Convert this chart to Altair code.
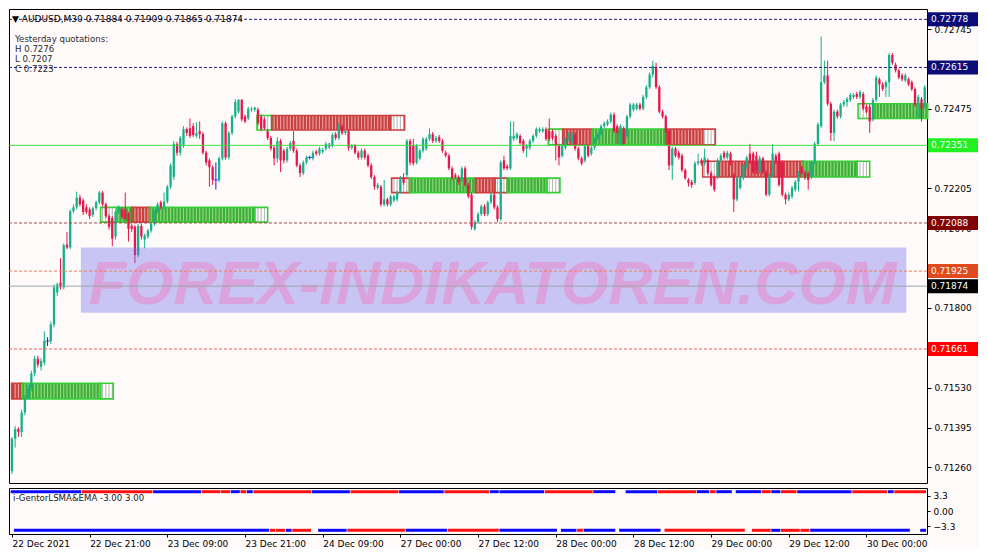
import json
import math
import altair as alt
import pandas as pd

# ---------------- data ----------------
opens = [
0.71247,0.71357,0.71390,0.71380,0.71446,0.71496,0.71529,0.71578,0.71628,0.71601,
0.71615,0.71688,0.71688,0.71744,0.71853,0.71886,0.71870,0.72015,0.72005,0.72128,
0.72141,0.72174,0.72164,0.72141,0.72134,0.72115,0.72138,0.72158,0.72191,0.72151,
0.72111,0.72105,0.72042,0.72125,0.72134,0.72134,0.72118,0.72078,0.72075,0.71979,
0.72078,0.72032,0.72042,0.72062,0.72085,0.72128,0.72158,0.72141,0.72161,0.72211,
0.72244,0.72356,0.72326,0.72350,0.72406,0.72409,0.72416,0.72383,0.72399,0.72389,
0.72326,0.72300,0.72277,0.72234,0.72234,0.72307,0.72426,0.72310,0.72393,0.72449,
0.72465,0.72505,0.72449,0.72442,0.72472,0.72472,0.72472,0.72449,0.72439,0.72399,
0.72376,0.72343,0.72307,0.72366,0.72333,0.72300,0.72340,0.72366,0.72333,0.72283,
0.72257,0.72293,0.72310,0.72307,0.72330,0.72323,0.72330,0.72340,0.72350,0.72350,
0.72389,0.72376,0.72416,0.72393,0.72399,0.72343,0.72350,0.72326,0.72310,0.72333,
0.72316,0.72283,0.72244,0.72207,0.72211,0.72151,0.72168,0.72151,0.72164,0.72168,
0.72194,0.72240,0.72250,0.72366,0.72350,0.72293,0.72307,0.72333,0.72340,0.72373,
0.72389,0.72366,0.72379,0.72366,0.72326,0.72316,0.72273,0.72250,0.72244,0.72234,
0.72273,0.72217,0.72184,0.72068,0.72091,0.72118,0.72144,0.72118,0.72158,0.72184,
0.72141,0.72101,0.72300,0.72280,0.72273,0.72373,0.72376,0.72383,0.72366,0.72340,
0.72343,0.72366,0.72383,0.72399,0.72399,0.72406,0.72399,0.72399,0.72383,0.72350,
0.72316,0.72343,0.72373,0.72359,0.72389,0.72340,0.72307,0.72300,0.72350,0.72323,
0.72343,0.72373,0.72389,0.72416,0.72422,0.72432,0.72455,0.72416,0.72383,0.72409,
0.72383,0.72449,0.72472,0.72475,0.72489,0.72475,0.72515,0.72548,0.72591,0.72614,
0.72548,0.72465,0.72449,0.72399,0.72283,0.72340,0.72326,0.72316,0.72267,0.72234,
0.72227,0.72224,0.72290,0.72300,0.72290,0.72300,0.72257,0.72244,0.72244,0.72300,
0.72326,0.72310,0.72323,0.72250,0.72168,0.72207,0.72240,0.72277,0.72323,0.72323,
0.72316,0.72260,0.72307,0.72260,0.72184,0.72250,0.72316,0.72323,0.72293,0.72184,
0.72168,0.72178,0.72201,0.72227,0.72277,0.72260,0.72257,0.72244,0.72293,0.72356,
0.72416,0.72565,0.72588,0.72492,0.72393,0.72465,0.72449,0.72489,0.72498,0.72505,
0.72515,0.72525,0.72515,0.72525,0.72482,0.72482,0.72439,0.72505,0.72575,0.72558,
0.72548,0.72565,0.72657,0.72624,0.72605,0.72588,0.72571,0.72575,0.72565,0.72542,
0.72492,0.72508,0.72482]

closes = [
0.71357,0.71390,0.71380,0.71446,0.71496,0.71529,0.71578,0.71628,0.71608,0.71621,
0.71688,0.71688,0.71744,0.71870,0.71880,0.71870,0.72012,0.72005,0.72128,0.72141,
0.72174,0.72151,0.72125,0.72125,0.72111,0.72138,0.72158,0.72191,0.72151,0.72111,
0.72075,0.72035,0.72125,0.72141,0.72108,0.72101,0.72068,0.72068,0.71979,0.72078,
0.72042,0.72045,0.72062,0.72085,0.72128,0.72151,0.72141,0.72161,0.72211,0.72283,
0.72356,0.72326,0.72376,0.72406,0.72393,0.72383,0.72386,0.72393,0.72389,0.72326,
0.72293,0.72277,0.72234,0.72234,0.72307,0.72426,0.72310,0.72393,0.72449,0.72498,
0.72505,0.72439,0.72432,0.72475,0.72475,0.72479,0.72426,0.72406,0.72409,0.72376,
0.72340,0.72307,0.72366,0.72300,0.72300,0.72340,0.72359,0.72333,0.72283,0.72257,
0.72293,0.72310,0.72310,0.72326,0.72323,0.72340,0.72336,0.72356,0.72350,0.72386,
0.72376,0.72419,0.72393,0.72399,0.72343,0.72350,0.72326,0.72310,0.72333,0.72310,
0.72283,0.72244,0.72211,0.72217,0.72151,0.72168,0.72151,0.72178,0.72178,0.72191,
0.72240,0.72224,0.72366,0.72293,0.72290,0.72350,0.72333,0.72373,0.72373,0.72389,
0.72366,0.72376,0.72366,0.72333,0.72316,0.72273,0.72240,0.72244,0.72227,0.72273,
0.72217,0.72178,0.72075,0.72091,0.72118,0.72144,0.72118,0.72158,0.72184,0.72141,
0.72101,0.72293,0.72273,0.72273,0.72383,0.72383,0.72389,0.72359,0.72333,0.72350,
0.72366,0.72383,0.72406,0.72406,0.72406,0.72373,0.72373,0.72376,0.72350,0.72310,
0.72350,0.72373,0.72389,0.72389,0.72340,0.72307,0.72290,0.72350,0.72316,0.72343,
0.72373,0.72389,0.72416,0.72426,0.72432,0.72455,0.72399,0.72393,0.72416,0.72356,
0.72449,0.72489,0.72489,0.72489,0.72475,0.72515,0.72548,0.72591,0.72621,0.72548,
0.72465,0.72449,0.72399,0.72283,0.72340,0.72316,0.72310,0.72267,0.72240,0.72224,
0.72217,0.72290,0.72297,0.72290,0.72310,0.72257,0.72217,0.72201,0.72300,0.72316,
0.72310,0.72326,0.72293,0.72168,0.72240,0.72240,0.72283,0.72310,0.72293,0.72260,
0.72267,0.72307,0.72260,0.72184,0.72250,0.72323,0.72293,0.72217,0.72184,0.72168,
0.72184,0.72207,0.72227,0.72257,0.72257,0.72240,0.72234,0.72293,0.72356,0.72422,
0.72565,0.72588,0.72492,0.72393,0.72465,0.72449,0.72489,0.72498,0.72508,0.72522,
0.72522,0.72515,0.72532,0.72475,0.72465,0.72432,0.72505,0.72581,0.72558,0.72542,
0.72565,0.72657,0.72631,0.72605,0.72581,0.72575,0.72588,0.72558,0.72542,0.72489,
0.72515,0.72475,0.72548]

highs = [
0.71363,0.71400,0.71396,0.71456,0.71506,0.71539,0.71588,0.71638,0.71638,0.71631,
0.71721,0.71701,0.71754,0.71880,0.71886,0.71969,0.72019,0.72058,0.72134,0.72151,
0.72194,0.72184,0.72171,0.72151,0.72141,0.72144,0.72164,0.72197,0.72197,0.72158,
0.72118,0.72111,0.72131,0.72148,0.72141,0.72191,0.72125,0.72085,0.72081,0.72085,
0.72085,0.72052,0.72068,0.72091,0.72134,0.72158,0.72164,0.72191,0.72217,0.72290,
0.72366,0.72363,0.72383,0.72416,0.72412,0.72442,0.72426,0.72429,0.72432,0.72396,
0.72333,0.72307,0.72283,0.72293,0.72313,0.72432,0.72432,0.72399,0.72455,0.72508,
0.72508,0.72508,0.72455,0.72482,0.72482,0.72482,0.72479,0.72455,0.72446,0.72406,
0.72383,0.72350,0.72379,0.72373,0.72340,0.72346,0.72366,0.72399,0.72340,0.72290,
0.72300,0.72316,0.72316,0.72333,0.72336,0.72346,0.72343,0.72363,0.72359,0.72393,
0.72396,0.72426,0.72422,0.72406,0.72406,0.72356,0.72356,0.72333,0.72340,0.72340,
0.72323,0.72290,0.72250,0.72224,0.72217,0.72234,0.72174,0.72184,0.72184,0.72197,
0.72247,0.72257,0.72373,0.72373,0.72373,0.72356,0.72340,0.72379,0.72379,0.72409,
0.72396,0.72383,0.72386,0.72373,0.72333,0.72323,0.72280,0.72257,0.72250,0.72280,
0.72280,0.72224,0.72191,0.72098,0.72125,0.72151,0.72151,0.72164,0.72191,0.72191,
0.72148,0.72300,0.72316,0.72287,0.72432,0.72432,0.72396,0.72389,0.72373,0.72356,
0.72373,0.72389,0.72412,0.72412,0.72412,0.72412,0.72442,0.72406,0.72389,0.72356,
0.72356,0.72379,0.72396,0.72396,0.72396,0.72346,0.72313,0.72356,0.72356,0.72350,
0.72379,0.72396,0.72422,0.72432,0.72439,0.72462,0.72462,0.72422,0.72422,0.72416,
0.72455,0.72495,0.72495,0.72495,0.72495,0.72522,0.72555,0.72598,0.72638,0.72631,
0.72555,0.72472,0.72455,0.72406,0.72346,0.72346,0.72333,0.72323,0.72273,0.72240,
0.72234,0.72297,0.72323,0.72307,0.72340,0.72307,0.72264,0.72250,0.72307,0.72323,
0.72333,0.72333,0.72330,0.72257,0.72247,0.72247,0.72290,0.72316,0.72356,0.72330,
0.72330,0.72316,0.72313,0.72267,0.72257,0.72356,0.72323,0.72330,0.72300,0.72191,
0.72191,0.72214,0.72234,0.72264,0.72283,0.72267,0.72264,0.72300,0.72363,0.72429,
0.72720,0.72638,0.72638,0.72498,0.72472,0.72472,0.72495,0.72505,0.72515,0.72528,
0.72528,0.72532,0.72538,0.72532,0.72489,0.72489,0.72512,0.72588,0.72581,0.72565,
0.72571,0.72664,0.72664,0.72631,0.72611,0.72595,0.72595,0.72581,0.72571,0.72548,
0.72522,0.72515,0.72555]

lows = [
0.71237,0.71327,0.71363,0.71363,0.71436,0.71489,0.71519,0.71568,0.71598,0.71588,
0.71605,0.71671,0.71678,0.71734,0.71840,0.71863,0.71863,0.71999,0.71999,0.72121,
0.72134,0.72144,0.72115,0.72118,0.72101,0.72108,0.72131,0.72151,0.72144,0.72105,
0.72065,0.72009,0.72032,0.72118,0.72101,0.72095,0.72025,0.72058,0.71952,0.71972,
0.72032,0.72002,0.72035,0.72055,0.72078,0.72121,0.72134,0.72134,0.72154,0.72204,
0.72234,0.72316,0.72316,0.72343,0.72383,0.72376,0.72379,0.72376,0.72373,0.72320,
0.72283,0.72211,0.72217,0.72201,0.72227,0.72300,0.72303,0.72303,0.72386,0.72442,
0.72459,0.72432,0.72426,0.72436,0.72465,0.72465,0.72419,0.72399,0.72403,0.72369,
0.72333,0.72283,0.72293,0.72260,0.72290,0.72293,0.72333,0.72326,0.72277,0.72244,
0.72250,0.72287,0.72303,0.72300,0.72316,0.72316,0.72323,0.72333,0.72340,0.72343,
0.72369,0.72369,0.72386,0.72386,0.72333,0.72336,0.72320,0.72303,0.72303,0.72303,
0.72277,0.72237,0.72201,0.72201,0.72144,0.72144,0.72144,0.72144,0.72158,0.72161,
0.72187,0.72217,0.72244,0.72283,0.72283,0.72287,0.72300,0.72326,0.72333,0.72366,
0.72359,0.72359,0.72359,0.72326,0.72310,0.72267,0.72234,0.72237,0.72217,0.72227,
0.72211,0.72171,0.72065,0.72062,0.72085,0.72111,0.72111,0.72111,0.72151,0.72134,
0.72091,0.72095,0.72267,0.72267,0.72267,0.72366,0.72369,0.72353,0.72326,0.72310,
0.72336,0.72359,0.72376,0.72393,0.72393,0.72366,0.72366,0.72369,0.72300,0.72283,
0.72310,0.72336,0.72366,0.72353,0.72333,0.72300,0.72283,0.72293,0.72310,0.72316,
0.72336,0.72366,0.72383,0.72409,0.72416,0.72426,0.72393,0.72356,0.72350,0.72350,
0.72376,0.72442,0.72465,0.72469,0.72469,0.72469,0.72508,0.72542,0.72581,0.72542,
0.72459,0.72442,0.72393,0.72267,0.72234,0.72310,0.72303,0.72260,0.72234,0.72211,
0.72207,0.72217,0.72283,0.72283,0.72283,0.72250,0.72211,0.72194,0.72237,0.72293,
0.72303,0.72303,0.72283,0.72125,0.72161,0.72201,0.72234,0.72270,0.72287,0.72254,
0.72254,0.72254,0.72254,0.72178,0.72178,0.72244,0.72287,0.72211,0.72178,0.72151,
0.72161,0.72171,0.72194,0.72194,0.72250,0.72234,0.72201,0.72237,0.72287,0.72350,
0.72409,0.72558,0.72485,0.72366,0.72366,0.72442,0.72442,0.72482,0.72482,0.72498,
0.72508,0.72508,0.72508,0.72469,0.72459,0.72393,0.72432,0.72498,0.72515,0.72535,
0.72515,0.72515,0.72624,0.72598,0.72575,0.72568,0.72565,0.72552,0.72535,0.72482,
0.72442,0.72432,0.72475]

# price-axis tick labels (the ones not fully covered by level tags) and time labels
y_ticks = [0.72745, 0.72475, 0.72205, 0.72070,
           0.71935, 0.71800, 0.71530, 0.71395, 0.71260]
time_bars = [0, 24, 48, 72, 96, 120, 144, 168, 192, 216, 240, 264]
time_labels = ["22 Dec 2021", "22 Dec 21:00", "23 Dec 09:00", "23 Dec 21:00",
               "24 Dec 09:00", "27 Dec 00:00", "27 Dec 12:00", "28 Dec 00:00",
               "28 Dec 12:00", "29 Dec 00:00", "29 Dec 12:00", "30 Dec 00:00"]

# horizontal price levels
lvl_price = [0.72778, 0.72615, 0.72351, 0.72088, 0.71925, 0.71874, 0.71661]
lvl_kind = ["navy", "navy", "green", "darkred", "orange", "gray", "red"]

# zone rectangles (sections): start bar, end bar, top price, bottom price, kind, edge
sec_start = [-0.1, 3.3, 27.4,   27.4, 32.5, 37.0, 42.5, 75.0,   75.7, 80.3, 117.0,
             117.3, 122.8, 143.2, 149.2, 153.0, 165.3,   165.7, 170.2, 179.3, 202.1, 213.4,
             213.4, 218.0, 244.4, 261.1,   261.4, 266.6]
sec_end = [3.3, 27.4, 31.3,   32.5, 37.0, 42.5, 75.0, 79.0,   80.3, 117.0, 121.3,
           122.8, 143.2, 149.2, 153.0, 165.3, 169.3,   170.2, 179.3, 202.1, 213.4, 217.3,
           218.0, 244.4, 261.1, 265.0,   266.6, 282.9]
sec_top = [0.71545] * 3 + [0.72141] * 5 + [0.72452] * 3 + [0.72240] * 6 + [0.72406] * 5 + [0.72297] * 4 + [0.72492] * 2
sec_bot = [0.71492] * 3 + [0.72091] * 5 + [0.72403] * 3 + [0.72191] * 6 + [0.72353] * 5 + [0.72244] * 4 + [0.72442] * 2
sec_kind = ["red", "green", "white",   "white", "green", "red", "green", "white",   "white", "red", "white",
            "white", "green", "red", "white", "green", "white",   "white", "red", "green", "red", "white",
            "white", "red", "green", "white",   "white", "green"]
sec_edge = ["red", "green", "green",   "green", "green", "red", "green", "green",   "green", "red", "red",
            "red", "green", "red", "red", "green", "green",   "green", "red", "green", "red", "red",
            "red", "red", "green", "green",   "green", "green"]

# indicator panel segments (bar ranges, colour)
top_start = [0, 22, 44, 59, 65, 68, 71, 73, 75, 93, 105, 120, 134, 148, 151, 165, 180, 190, 200, 212, 216, 218, 224, 232, 235, 238, 243, 260, 271, 273]
top_end = [21, 43, 58, 64, 67, 70, 72, 74, 92, 104, 119, 133, 147, 150, 164, 179, 186, 199, 211, 215, 217, 222, 231, 234, 237, 242, 259, 270, 272, 282]
top_col = ["b", "r", "b", "r", "r", "b", "r", "b", "r", "b", "r", "b", "r", "b", "b", "r", "b", "b", "r", "b", "r", "b", "b", "r", "b", "r", "b", "r", "b", "r"]
bot_start = [1, 80, 82, 85, 87, 95, 104, 122, 135, 151, 170, 175, 177, 188, 202, 229, 235, 238, 244, 247, 281]
bot_end = [79, 81, 84, 86, 92, 103, 121, 134, 150, 168, 174, 176, 186, 200, 226, 234, 237, 243, 246, 277, 282]
bot_col = ["b", "r", "r", "b", "r", "b", "r", "b", "r", "b", "b", "r", "b", "b", "r", "r", "b", "r", "r", "b", "b"]

# watermark
wm_bars = [21.3, 276.3]
wm_prices = [0.72005, 0.71784]
wm_text_bar = 148.5
wm_text_price = 0.71813

# ---------------- layout / style ----------------
W, HM, HI = 918, 474, 46
XDOM = [-0.91, 282.7]
YDOM = [0.71207, 0.72813]
FONT = "DejaVu Sans"
BG = "#FFFAFA"

xs = alt.Scale(domain=XDOM, nice=False, zero=False)
ys = alt.Scale(domain=YDOM, nice=False, zero=False)
yaxis = alt.Axis(orient="right", values=y_ticks, format=".5f", title=None, grid=False,
                 domain=False, tickSize=4, tickColor="#000000", labelColor="#000000",
                 labelFont=FONT, labelFontSize=9, labelPadding=3, labelOverlap=False)


def X(f):
    return alt.X(f, type="quantitative", scale=xs, axis=None)


def Y(f):
    return alt.Y(f, type="quantitative", scale=ys, axis=yaxis)


n = len(opens)
candles = pd.DataFrame({"bar": list(range(n)), "open": opens, "high": highs,
                        "low": lows, "close": closes})
candles["dir"] = ["up" if c > o else ("down" if c < o else "doji") for o, c in zip(opens, closes)]
cmap = {"up": "#17B088", "down": "#E5174B", "doji": "#1A1AFF"}
candles["col"] = candles["dir"].map(cmap)

wicks = alt.Chart(candles).mark_rule(strokeWidth=1).encode(
    x=X("bar"), y=Y("low"), y2="high", color=alt.Color("col:N", scale=None))
bodies = alt.Chart(candles[candles["dir"] != "doji"]).mark_rule(strokeWidth=2.3).encode(
    x=X("bar"), y=Y("open"), y2="close", color=alt.Color("col:N", scale=None))
dojis = alt.Chart(candles[candles["dir"] == "doji"]).mark_tick(
    orient="horizontal", size=5, thickness=1).encode(
    x=X("bar"), y=Y("close"), color=alt.Color("col:N", scale=None))

# zones
fill_map = {"green": "#3FAD3A", "red": "#C94040", "white": "#FFFFFF"}
stripe_map = {"green": "#92DC84", "red": "#EDA3A3", "white": "#B9B9B9"}
edge_map = {"green": "#35CE35", "red": "#CC4040"}
secs = pd.DataFrame({"s": sec_start, "e": sec_end, "top": sec_top, "bot": sec_bot,
                     "kind": sec_kind, "edge": sec_edge})
secs["fill"] = secs["kind"].map(fill_map)
secs["stroke"] = secs["edge"].map(edge_map)
stripe_rows = []
for s, e, t, b, k in zip(sec_start, sec_end, sec_top, sec_bot, sec_kind):
    for kbar in range(math.ceil(s + 0.2), math.floor(e - 0.2) + 1):
        stripe_rows.append({"k": kbar, "top": t, "bot": b, "col": stripe_map[k]})
stripes = pd.DataFrame(stripe_rows)

zone_fill = alt.Chart(secs).mark_rect().encode(
    x=X("s"), x2="e", y=Y("top"), y2="bot", fill=alt.Fill("fill:N", scale=None))
zone_stripes = alt.Chart(stripes).mark_rule(strokeWidth=1.1).encode(
    x=X("k"), y=Y("top"), y2="bot", color=alt.Color("col:N", scale=None))
zone_edge = alt.Chart(secs).mark_rect(fillOpacity=0, strokeWidth=1.6).encode(
    x=X("s"), x2="e", y=Y("top"), y2="bot", stroke=alt.Stroke("stroke:N", scale=None))

# watermark
wm = pd.DataFrame({"x1": [wm_bars[0]], "x2": [wm_bars[1]], "y1": [wm_prices[0]], "y2": [wm_prices[1]],
                   "tx": [wm_text_bar], "ty": [wm_text_price]})
wm_rect = alt.Chart(wm).mark_rect(color="#6E6EEB", opacity=0.38).encode(
    x=X("x1"), x2="x2", y=Y("y1"), y2="y2")
wm_text = alt.Chart(wm).mark_text(text="FOREX-INDIKATOREN.COM", font="Liberation Sans",
                                  fontSize=61, fontStyle="italic", fontWeight="bold",
                                  color="#DBA3DD", align="center", baseline="alphabetic").encode(
    x=X("tx"), y=Y("ty"))

# levels
line_map = {"navy": "#202080", "green": "#3EE03E", "darkred": "#A24C4C",
            "orange": "#F07A5C", "gray": "#9AA6A6", "red": "#FF5A5A"}
bg_map = {"navy": "#0C0C78", "green": "#22F022", "darkred": "#800000",
          "orange": "#E04A1C", "gray": "#000000", "red": "#FF0000"}
lv = pd.DataFrame({"price": lvl_price, "kind": lvl_kind})
lv["line"] = lv["kind"].map(line_map)
lv["bg"] = lv["kind"].map(bg_map)
lv["txt"] = [f"{p:.5f}" for p in lvl_price]
lv["dashed"] = lv["kind"].isin(["navy", "darkred", "orange", "red"])

dashed_lines = alt.Chart(lv[lv["dashed"]]).mark_rule(strokeWidth=1, strokeDash=[3, 2]).encode(
    y=Y("price"), color=alt.Color("line:N", scale=None))
solid_lines = alt.Chart(lv[~lv["dashed"]]).mark_rule(strokeWidth=1).encode(
    y=Y("price"), color=alt.Color("line:N", scale=None))
lbl_box = alt.Chart(lv).mark_point(shape="M-1,-0.28H1V0.28H-1Z", size=2500, filled=True,
                                   opacity=1, strokeWidth=0).encode(
    x=alt.value(W + 26), y=Y("price"), fill=alt.Fill("bg:N", scale=None))
lbl_txt = alt.Chart(lv).mark_text(align="left", baseline="middle", font=FONT, fontSize=9,
                                  color="#FFFFFF").encode(
    x=alt.value(W + 4), y=Y("price"), text="txt:N")


def note(txt, px, py, color="#000000", size=9):
    return alt.Chart(pd.DataFrame({"t": [txt]})).mark_text(
        align="left", baseline="middle", font=FONT, fontSize=size, color=color).encode(
        x=alt.value(px), y=alt.value(py), text="t:N")


notes = [
    note("\u25BC AUDUSD,M30  0.71884 0.71909 0.71865 0.71874", 3, 10),
    note("Yesterday quotations:", 6, 30, "#2A2A2A", 8.6),
    note("H 0.7276", 6, 40, "#2A2A2A", 8.6),
    note("L 0.7207", 6, 50, "#2A2A2A", 8.6),
    note("C 0.7223", 6, 59.5, "#2A2A2A", 8.6),
]

main = alt.layer(zone_fill, zone_stripes, zone_edge, wicks, bodies, dojis,
                 wm_rect, wm_text, dashed_lines, solid_lines, lbl_box, lbl_txt,
                 *notes).properties(width=W, height=HM)

# indicator panel
seg = pd.DataFrame({
    "x1": [s - 0.4 for s in top_start] + [s - 0.4 for s in bot_start],
    "x2": [e + 0.4 for e in top_end] + [e + 0.4 for e in bot_end],
    "lvl": [4.2] * len(top_start) + [-4.2] * len(bot_start),
    "c": top_col + bot_col,
})
seg["col"] = seg["c"].map({"b": "#0A0AFF", "r": "#FF1010"})

label_expr = "%s[indexof(%s, datum.value)]" % (json.dumps(time_labels), json.dumps(time_bars))
xaxis_ind = alt.Axis(values=time_bars, labelExpr=label_expr, labelAlign="left", tickSize=3,
                     labelPadding=2, domain=False, grid=False, title=None, labelFont=FONT,
                     labelFontSize=9, labelColor="#000000", tickColor="#000000",
                     labelOverlap=False, labelFlush=False)
yaxis_ind = alt.Axis(orient="right", values=[3.3, 0, -3.3], title=None, grid=False, domain=False,
                     tickSize=3, tickColor="#000000", labelColor="#000000", labelFont=FONT,
                     labelFontSize=9, labelPadding=3,
                     labelExpr="datum.value == 0 ? '0.00' : format(datum.value, '.1f')")

ind_lines = alt.Chart(seg).mark_rule(strokeWidth=3).encode(
    x=alt.X("x1:Q", scale=xs, axis=xaxis_ind), x2="x2",
    y=alt.Y("lvl:Q", scale=alt.Scale(domain=[-5, 5], nice=False, zero=False), axis=yaxis_ind),
    color=alt.Color("col:N", scale=None))
ind_note = note("i-GentorLSMA&EMA -3.00 3.00", 4, 10, "#1A1A1A", 8.6)
ind = alt.layer(ind_lines, ind_note).properties(width=W, height=HI)

chart = alt.vconcat(main, ind, spacing=3).properties(
    padding=0, background=BG
).configure_view(stroke="#000000", strokeWidth=1)

chart.save("out.html", embed_options={"renderer": "svg", "actions": False})
